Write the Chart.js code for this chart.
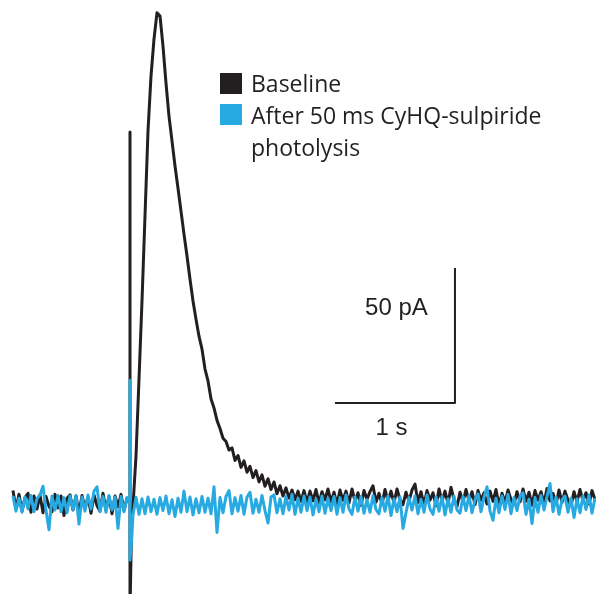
<!DOCTYPE html>
<html>

<head>
  <meta charset="UTF-8">
  <title>Baseline vs CyHQ-sulpiride photolysis</title>
  <script src="https://cdn.jsdelivr.net/npm/chart.js@4.4.1/dist/chart.umd.min.js"></script>
  <style>
    body { margin: 0; background: #fff; }
    #wrap { width: 596px; height: 594px; }
  </style>
</head>

<body>
  <div id="wrap">
    <canvas id="myChart" width="596" height="594"></canvas>
  </div>
  <script>
    // sampled every 25 ms, current in pA
    const sampleStep = 0.025;
    const preStart = -0.975;
    const postStart = 0.025;

    const legendLabels = ['Baseline', 'After 50 ms CyHQ-sulpiride', 'photolysis'];
    const scaleBarTime = [1.708, 2.708, 2.708];
    const scaleBarCurrent = [37.4, 37.4, 87.4];
    const scaleBarLabels = ['50 pA', '1 s'];

    const baselinePre = [5.0, -1.8, 3.6, -2.6, 2.4, 4.0, -3.0, 3.0, -1.8, 3.4, -3.2, 2.8, -0.8, -2.8, 3.6, -1.4,
      3.0, -4.2, 2.2, 3.4, -2.2, 3.0, -3.4, 3.2, -1.6, 2.6, -3.4, 3.4, -0.6, -2.6, 4.0, -2.2, 2.8, -3.6, 3.0,
      -1.0, 3.6, -2.4, 2.2];
    const baselineStimT = [0, 0, 0, 0.015];
    const baselineStimI = [1.2, 137.8, -40, -3];
    const baselinePost = [-0.7, 17.8, 46.3, 75.2, 106.7, 138.2, 158.5, 172.2, 182.0, 180.8, 169.6, 155.9, 143.7,
      134.5, 125.2, 117.0, 108.5, 100.0, 91.9, 83.3, 75.2, 68.5, 62.2, 57.4, 50.0, 45.6, 39.0, 35.6, 31.0, 28.0,
      24.4, 23.2, 20.0, 20.8, 16.2, 18.0, 13.6, 16.0, 11.8, 14.0, 9.8, 12.4, 8.2, 10.8, 6.6, 9.4, 5.4, 8.2, 3.8,
      6.8, 3.0, 6.0, 2.2, 5.2, 1.6, 4.8,
      1.0, 5.0, 0.6, 4.8, 1.2, 5.4, 0.4, 4.6, 1.6, 5.6, 0.8, 4.4, -0.2, 5.2, 1.4, 4.8, 0.4, 5.6, 1.0, 4.2, -0.4,
      5.0, 1.8, 4.6, 6.8, 0.8, 4.0, 0.0, 5.4, 1.2, 4.8, 0.4, 5.6, 1.6, -0.2, 4.4, 1.0, 5.2, 7.4, 0.6, 4.6, -0.4,
      5.0, 1.4, 4.2, -0.6, 5.6, 1.0, 4.8, 0.2, 6.2, 1.6, -1.0, 4.4, 0.8, 5.4, 1.2, 4.6, -0.2, 5.0, 1.4, 4.2, 0.0,
      4.8, 1.0, 5.4, -0.6, 4.0, 0.6, 5.2, 1.6, -0.2, 4.6, 0.8, 5.6, 1.0, 4.4, -0.4, 5.0, 1.4, 4.6, 0.2, 5.8, 1.2,
      4.0, -0.2, 5.2, 0.6, 4.8, 1.4, -0.6, 4.6, 0.8, 5.4, 1.2, 4.2, 0.0, 5.0, 1.6];

    const photolysisPre = [3.0, -2.6, 2.2, -3.0, 2.6, -1.8, 3.2, -2.8, 2.0, 3.4, 6.6, -2.4, -9.5, 3.0, -2.2, 3.2,
      -2.8, 2.4, -3.2, 3.0, -2.0, 3.2, -7.4, 2.6, -2.6, 3.4, -1.8, 4.8, 6.4, -2.8, 2.8, -3.0, 3.2, -2.2, 2.6,
      -9.0, 2.8, -2.8, 2.4];
    const photolysisStimT = [0, 0, 0, 0.015];
    const photolysisStimI = [1.0, 45.9, -20.7, -12.2];
    const photolysisPost = [-4.0, 2.5, -3.8, 2.0, -3.6, 2.6, -2.8, 1.8, -3.8, 2.4, -2.4, 3.0, -3.6, 1.6, -4.6,
      2.2, -3.0, 4.8, -2.8, 2.6, -4.0, 2.0, -3.2, 2.8, -3.0, 2.2, -3.6, 6.4, -10.5, 2.4, -3.2, 2.8, 5.0, -3.6,
      2.4, -2.6, 3.2, -3.8, 2.6, 4.4, -3.4, 1.8, -3.0, 3.2, -2.4, -7.0, 2.6, 3.4, -3.2, 2.0, -3.6, 2.8, -2.2,
      3.6, -3.8, 2.2, -3.0, 3.0, -2.4, 2.6, -4.0, 1.8, -2.8, 3.0, -3.4, 2.2, -2.4, 2.8, -3.8, 2.4, -3.0, 3.4,
      -1.8, -3.8, 2.6, -2.6, 2.8, -3.4, 1.6, -3.0, 3.2, -2.0, -3.6, 2.4, -2.6, 3.0, -4.2, 2.0, -2.8, 2.6, -9.0,
      -3.2, 2.4, -2.2, 3.0, -3.6, 1.8, -3.0, 3.4, -1.8, -3.8, 2.6, -2.6, 2.8, -4.0, 2.0, -3.0, 3.0, -2.2, -3.4,
      2.8, -2.4, 3.2, -3.2, 1.6, 3.8, -2.8, 2.6, 6.4, -2.6, -6.0, 2.2, -3.2, 3.0, -2.0, 3.6, -3.6, 2.4, -2.4,
      2.8, 4.2, -3.8, 1.8, -7.2, 2.4, -3.0, 3.2, -2.2, 2.8, 7.6, -2.8, 2.6, -3.8, 1.6, 3.0, -3.0, 2.2, -5.0, 2.0,
      -3.2, 3.0, -2.0, 3.4, -3.4, 2.2];

    function trace(pre, stimT, stimI, post) {
      let pts = pre.map((v, i) => ({ x: preStart + i * sampleStep, y: v }));
      stimT.forEach((t, i) => pts.push({ x: t, y: stimI[i] }));
      post.forEach((v, i) => pts.push({ x: postStart + i * sampleStep, y: v }));
      return pts;
    }

    const BLACK = '#231f20';
    const BLUE = '#27a9e1';

    const overlay = {
      id: 'overlay',
      afterDraw(chart) {
        let c = chart.ctx;
        let xs = chart.scales.x, ys = chart.scales.y;
        c.save();
        // legend
        c.fillStyle = BLACK;
        c.fillRect(220, 73, 22, 21);
        c.fillStyle = BLUE;
        c.fillRect(220, 104, 22, 21);
        c.fillStyle = '#231f20';
        c.font = '23px "Open Sans"';
        c.textBaseline = 'alphabetic';
        c.textAlign = 'left';
        c.fillText(legendLabels[0], 251, 92);
        c.fillText(legendLabels[1], 251, 124);
        c.fillText(legendLabels[2], 251, 156);
        // scale bar labels
        c.font = '24px "Liberation Sans"';
        c.textAlign = 'center';
        c.textBaseline = 'middle';
        c.fillText(scaleBarLabels[0], xs.getPixelForValue(2.22), ys.getPixelForValue(72.6));
        c.fillText(scaleBarLabels[1], xs.getPixelForValue(2.18), ys.getPixelForValue(28.0));
        c.restore();
      }
    };

    let ctx = document.getElementById('myChart').getContext('2d');
    let chart = new Chart(ctx, {
      type: 'line',
      data: {
        datasets: [{
          label: 'Baseline',
          data: trace(baselinePre, baselineStimT, baselineStimI, baselinePost),
          borderColor: BLACK,
          borderWidth: 3,
          order: 2
        },
        {
          label: 'After 50 ms CyHQ-sulpiride photolysis',
          data: trace(photolysisPre, photolysisStimT, photolysisStimI, photolysisPost),
          borderColor: BLUE,
          borderWidth: 3,
          order: 1
        },
        {
          label: 'scale',
          data: scaleBarTime.map((t, i) => ({ x: t, y: scaleBarCurrent[i] })),
          borderColor: BLACK,
          borderWidth: 2,
          order: 0
        }]
      },
      options: {
        responsive: false,
        animation: false,
        layout: { padding: 0 },
        elements: {
          point: { radius: 0 },
          line: { tension: 0, borderJoinStyle: 'round', fill: false }
        },
        scales: {
          x: { type: 'linear', display: false, min: -1.0833, max: 3.8833 },
          y: { type: 'linear', display: false, min: -33.3, max: 186.7 }
        },
        plugins: {
          legend: { display: false },
          tooltip: { enabled: false }
        }
      },
      plugins: [overlay]
    });
  </script>
</body>

</html>
